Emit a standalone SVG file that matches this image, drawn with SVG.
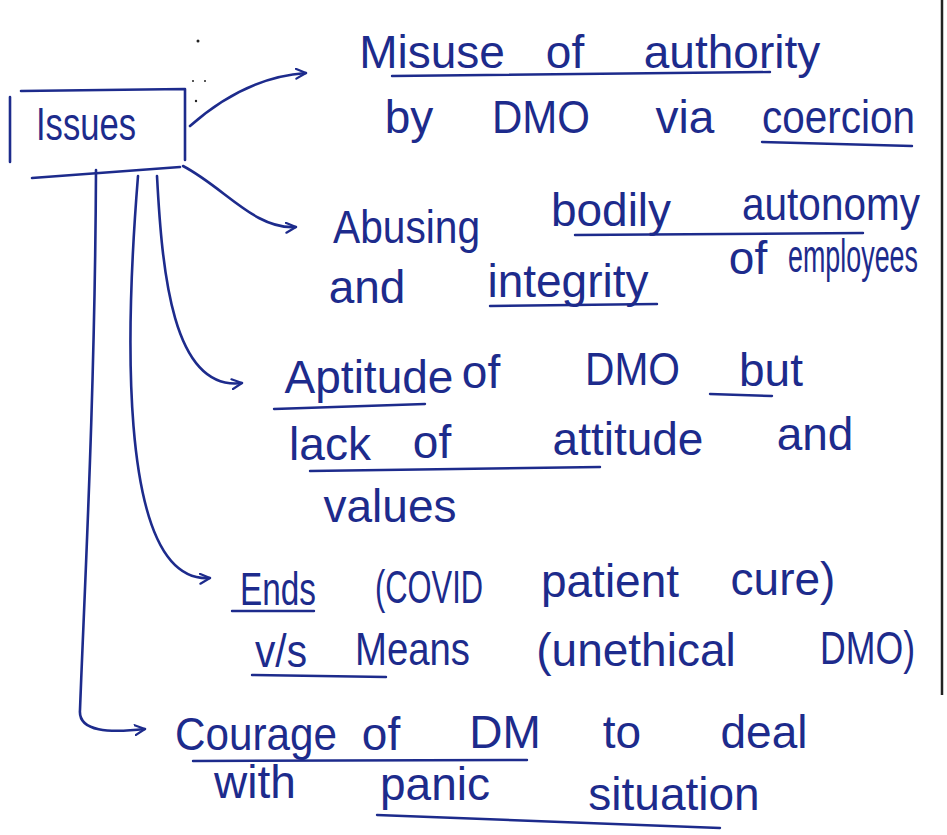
<svg xmlns="http://www.w3.org/2000/svg" width="947" height="835" viewBox="0 0 947 835">
<style>
.ink{fill:none;stroke:#1d2b8c;stroke-width:2.6;stroke-linecap:round;stroke-linejoin:round}
.t{font-family:"Liberation Sans","DejaVu Sans",sans-serif;font-size:46px;fill:#1d2b8c}
.c{text-anchor:middle}
.u{fill:none;stroke:#1d2b8c;stroke-width:2.4;stroke-linecap:round}
</style>
<defs>
<marker id="ah" viewBox="0 0 12 12" refX="11" refY="6" markerWidth="12" markerHeight="12" markerUnits="userSpaceOnUse" orient="auto">
<path d="M1,1 L11,6 L1,11" fill="none" stroke="#1d2b8c" stroke-width="2.2" stroke-linecap="round" stroke-linejoin="round"/>
</marker>
</defs>
<rect width="947" height="835" fill="#ffffff"/>
<line x1="942" y1="0" x2="942" y2="695" stroke="#222" stroke-width="2.5"/>
<g fill="#222">
<circle cx="198" cy="41" r="1.5"/>
<circle cx="193" cy="81" r="1"/>
<circle cx="205" cy="81" r="1"/>
<circle cx="196" cy="101" r="1.2"/>
</g>

<g id="issues">
<path class="ink" d="M21,91 L185,89 L185,160 M32,178 L180,167 M10,97 L10,162"/>
<text class="t" x="36" y="140" font-size="42" textLength="100" lengthAdjust="spacingAndGlyphs">Issues</text>
</g>

<g id="connectors">
<path class="ink" d="M190,126 C225,95 262,76 306,73" marker-end="url(#ah)"/>
<path class="ink" d="M183,166 C225,188 255,230 296,227" marker-end="url(#ah)"/>
<path class="ink" d="M157,176 C162,270 172,392 242,383" marker-end="url(#ah)"/>
<path class="ink" d="M138,176 C128,300 112,585 210,578" marker-end="url(#ah)"/>
<path class="ink" d="M96,170 C95,400 84,600 80,710 C78,732 110,733 145,729" marker-end="url(#ah)"/>
</g>

<g id="n1">
<text class="t c" x="432" y="68">Misuse</text>
<text class="t c" x="565" y="68">of</text>
<text class="t c" x="732" y="68">authority</text>
<text class="t c" x="409" y="133">by</text>
<text class="t" x="492" y="133" textLength="98" lengthAdjust="spacingAndGlyphs">DMO</text>
<text class="t c" x="685" y="133">via</text>
<text class="t" x="762" y="133" textLength="153" lengthAdjust="spacingAndGlyphs">coercion</text>
<path class="u" d="M392,76 L770,72 M762,142 L912,146"/>
</g>

<g id="n2">
<text class="t" x="333" y="243" textLength="147" lengthAdjust="spacingAndGlyphs">Abusing</text>
<text class="t c" x="611" y="226">bodily</text>
<text class="t" x="742" y="220" textLength="178" lengthAdjust="spacingAndGlyphs">autonomy</text>
<text class="t c" x="748" y="274">of</text>
<text class="t" x="788" y="272" font-size="28" textLength="130" lengthAdjust="spacingAndGlyphs">employees</text>
<text class="t c" x="367" y="303">and</text>
<text class="t c" x="568" y="297">integrity</text>
<path class="u" d="M575,235 L863,233 M490,306 L657,304"/>
</g>

<g id="n3">
<text class="t c" x="369" y="393">Aptitude</text>
<text class="t c" x="481" y="388">of</text>
<text class="t" x="585" y="385" textLength="95" lengthAdjust="spacingAndGlyphs">DMO</text>
<text class="t c" x="771" y="386">but</text>
<text class="t c" x="330" y="460">lack</text>
<text class="t c" x="432" y="458">of</text>
<text class="t c" x="628" y="455">attitude</text>
<text class="t c" x="815" y="450">and</text>
<text class="t c" x="390" y="522">values</text>
<path class="u" d="M274,409 L425,404 M710,394 L772,396 M310,471 L600,467"/>
</g>

<g id="n4">
<text class="t" x="240" y="605" textLength="76" lengthAdjust="spacingAndGlyphs">Ends</text>
<text class="t" x="375" y="603" font-size="38" textLength="108" lengthAdjust="spacingAndGlyphs">(COVID</text>
<text class="t c" x="610" y="597">patient</text>
<text class="t c" x="783" y="595">cure)</text>
<text class="t" x="255" y="667" textLength="52" lengthAdjust="spacingAndGlyphs">v/s</text>
<text class="t" x="355" y="665" textLength="115" lengthAdjust="spacingAndGlyphs">Means</text>
<text class="t c" x="636" y="666">(unethical</text>
<text class="t" x="820" y="664" textLength="95" lengthAdjust="spacingAndGlyphs">DMO)</text>
<path class="u" d="M232,611 L314,611 M252,675 L386,677"/>
</g>

<g id="n5">
<text class="t" x="175" y="750" textLength="162" lengthAdjust="spacingAndGlyphs">Courage</text>
<text class="t c" x="381" y="750">of</text>
<text class="t c" x="505" y="748">DM</text>
<text class="t c" x="622" y="748">to</text>
<text class="t c" x="764" y="748">deal</text>
<text class="t c" x="255" y="798">with</text>
<text class="t c" x="435" y="800">panic</text>
<text class="t c" x="674" y="810">situation</text>
<path class="u" d="M193,761 L527,760 M377,815 L720,828"/>
</g>
</svg>
